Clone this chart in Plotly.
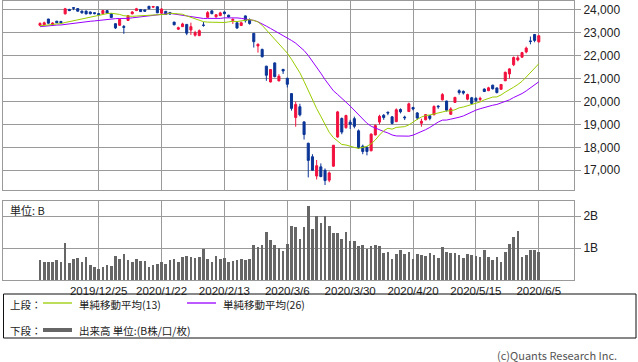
import plotly.graph_objects as go
import pandas as pd

W, H = 638, 362

dates = ["2019/12/5","2019/12/6","2019/12/9","2019/12/10","2019/12/11","2019/12/12","2019/12/13","2019/12/16","2019/12/17","2019/12/18",
         "2019/12/19","2019/12/20","2019/12/23","2019/12/24","2019/12/25","2019/12/26","2019/12/27","2019/12/30","2020/1/6","2020/1/7",
         "2020/1/8","2020/1/9","2020/1/10","2020/1/14","2020/1/15","2020/1/16","2020/1/17","2020/1/20","2020/1/21","2020/1/22",
         "2020/1/23","2020/1/24","2020/1/27","2020/1/28","2020/1/29","2020/1/30","2020/1/31","2020/2/3","2020/2/4","2020/2/5",
         "2020/2/6","2020/2/7","2020/2/10","2020/2/12","2020/2/13","2020/2/14","2020/2/17","2020/2/18","2020/2/19","2020/2/20",
         "2020/2/21","2020/2/25","2020/2/26","2020/2/27","2020/2/28","2020/3/2","2020/3/3","2020/3/4","2020/3/5","2020/3/6",
         "2020/3/9","2020/3/10","2020/3/11","2020/3/12","2020/3/13","2020/3/16","2020/3/17","2020/3/18","2020/3/19","2020/3/23",
         "2020/3/24","2020/3/25","2020/3/26","2020/3/27","2020/3/30","2020/3/31","2020/4/1","2020/4/2","2020/4/3","2020/4/6",
         "2020/4/7","2020/4/8","2020/4/9","2020/4/10","2020/4/13","2020/4/14","2020/4/15","2020/4/16","2020/4/17","2020/4/20",
         "2020/4/21","2020/4/22","2020/4/23","2020/4/24","2020/4/27","2020/4/28","2020/4/30","2020/5/1","2020/5/7","2020/5/8",
         "2020/5/11","2020/5/12","2020/5/13","2020/5/14","2020/5/15","2020/5/18","2020/5/19","2020/5/20","2020/5/21","2020/5/22",
         "2020/5/25","2020/5/26","2020/5/27","2020/5/28","2020/5/29","2020/6/1","2020/6/2","2020/6/3","2020/6/4","2020/6/5"]

open_ = [23320,23340,23594,23320,23500,23490,23820,24010,24090,24050,
         23940,23940,23900,23870,23830,23830,23960,23820,23390,23320,
         23270,23530,23820,23960,24010,23990,24150,24110,24130,23850,
         23930,23880,23460,23150,23260,23360,23115,22890,22870,23330,
         23670,23950,23690,23740,23900,23760,23530,23430,23310,23730,
         23550,22970,22420,22270,21540,20850,21680,20897,21400,21009,
         20343,19300,19770,19110,18180,17590,16750,17150,17000,16570,
         17180,18450,19260,18860,19100,19250,18720,18050,18000,17850,
         18540,19100,19400,19530,19330,19120,19650,19320,19560,19740,
         19500,19050,19200,19380,19420,19800,20070,20020,19440,19960,
         20470,20440,20100,20160,20140,20090,20540,20470,20710,20590,
         20530,20900,21200,21600,21810,21930,22160,22640,22920,22600]
high = [23450,23480,23600,23450,23510,23500,24080,24040,24110,24070,
        23960,23960,23920,23880,23840,23990,23980,23830,23400,23610,
        23330,23770,23940,24080,24030,24010,24160,24150,24140,24060,
        23940,23900,23470,23260,23430,23370,23433,23080,23140,23464,
        23940,23960,23790,23910,23920,23780,23625,23440,23480,23750,
        23620,22980,22535,22300,21550,21410,21700,21190,21410,21040,
        20347,19990,19900,19130,18200,17700,17450,17300,17080,16950,
        18100,19590,19300,19420,19200,19340,18780,18120,18050,18610,
        19000,19420,19450,19560,19360,19700,19700,19380,19950,19760,
        19540,19250,19450,19400,19830,19830,20365,20030,19750,20200,
        20530,20480,20340,20200,20180,20207,20570,20640,20730,20610,
        20760,21300,21450,21960,22020,22160,22390,22830,22930,22900]
low = [23280,23330,23390,23300,23420,23410,23790,23940,23980,23920,
       23830,23800,23800,23800,23760,23820,23820,23640,23160,23300,
       22951,23510,23800,23950,23900,23900,24020,24070,23850,23830,
       23780,23780,23320,23120,23250,22890,22900,22830,22850,23259,
       23660,23800,23650,23730,23800,23660,23380,23170,23300,23440,
       23350,22350,22130,21920,20900,20830,21050,20880,21200,20610,
       19600,18900,19350,18340,16690,16980,16600,16700,16358,16480,
       17150,18420,18570,18810,18800,18830,17930,17700,17650,17830,
       18520,19000,19200,19400,19000,19100,19480,19190,19540,19610,
       19200,18900,19180,19180,19400,19680,20050,19560,19420,19950,
       20300,20300,20050,19880,19980,19990,20410,20450,20520,20350,
       20520,20890,21000,21540,21750,21900,22100,22490,22580,22560]
close = [23400,23430,23410,23420,23430,23424,24040,23960,24066,23934,
         23864,23816,23821,23830,23782,23960,23850,23656,23204,23575,
         23230,23739,23900,24040,23916,23933,24041,24140,23864,24031,
         23795,23810,23343,23215,23379,22977,23259,23000,23084,23319,
         23873,23827,23780,23861,23827,23687,23575,23200,23430,23520,
         23400,22605,22490,21950,21142,21390,21082,21100,21329,20749,
         19698,19870,19416,18559,17431,17002,17200,16726,16552,16887,
         18092,19546,18664,19389,19000,18917,17990,17818,17820,18576,
         18950,19353,19300,19498,19043,19638,19550,19290,19897,19669,
         19280,19137,19429,19262,19783,19771,20300,19619,19674,20179,
         20390,20366,20300,19914,20037,20133,20433,20595,20552,20388,
         20741,21271,21419,21916,21900,22130,22325,22613,22660,22863]

# closes of the 25 sessions before the first candle (needed for the moving averages)
prior_close = [22843,22927,22850,23251,23303,23330,23391,23331,23520,23319,
               23141,23303,23416,23292,23148,23038,23112,23292,23373,23437,
               23409,23293,23529,23379,23135]

volume_b = [0.64,0.57,0.57,0.56,0.64,0.57,1.17,0.54,0.67,0.70,
            0.57,0.73,0.48,0.42,0.35,0.42,0.48,0.45,0.76,0.67,
            0.82,0.64,0.57,0.67,0.60,0.60,0.42,0.48,0.51,0.57,
            0.51,0.64,0.67,0.57,0.73,0.76,0.73,0.70,0.73,0.98,
            0.67,0.57,0.76,0.67,0.70,0.57,0.60,0.64,0.67,0.64,
            0.67,1.10,1.05,1.10,1.51,1.26,1.10,1.00,0.92,1.14,
            1.68,1.66,1.29,1.66,2.32,1.60,2.01,1.79,2.01,1.70,
            1.48,1.48,1.29,1.51,1.23,1.23,1.07,1.10,0.98,1.07,
            1.10,1.07,0.85,0.89,0.67,0.82,0.95,0.82,0.89,0.67,
            0.82,0.79,0.76,0.85,0.79,0.70,1.04,0.89,0.85,0.85,
            0.79,0.70,0.82,0.79,0.76,0.73,0.95,0.73,0.64,0.73,
            0.57,0.89,1.14,1.35,1.54,0.73,0.79,0.95,0.95,0.89]

tick_labels = ["2019/12/25","2020/1/22","2020/2/13","2020/3/6","2020/3/30","2020/4/20","2020/5/15","2020/6/5"]
price_ticks = [17000,18000,19000,20000,21000,22000,23000,24000]
vol_ticks = [1, 2]
vol_tick_text = ["1B", "2B"]

RED = "#f2113e"
BLUE = "#0b3596"
GREEN = "#99cc00"
PURPLE = "#9900ff"
GRID = "#9a9a9a"
TXT = "#222222"

x = list(range(len(dates)))
tick_idx = [dates.index(t) for t in tick_labels]

allc = pd.Series(prior_close + close)
ma13 = allc.rolling(13).mean().iloc[len(prior_close):].tolist()
ma26 = allc.rolling(26).mean().iloc[len(prior_close):].tolist()

def px_x(p):
    return p / W

def px_y(p):
    return 1 - p / H

fig = go.Figure()
fig.add_trace(go.Scatter(x=x, y=ma26, mode="lines", line=dict(color=PURPLE, width=1),
                         xaxis="x", yaxis="y", showlegend=False, hoverinfo="skip"))
fig.add_trace(go.Scatter(x=x, y=ma13, mode="lines", line=dict(color=GREEN, width=1),
                         xaxis="x", yaxis="y", showlegend=False, hoverinfo="skip"))
fig.add_trace(go.Candlestick(x=x, open=open_, high=high, low=low, close=close,
                             xaxis="x", yaxis="y", whiskerwidth=0,
                             increasing=dict(line=dict(color=RED, width=1), fillcolor=RED),
                             decreasing=dict(line=dict(color=BLUE, width=1), fillcolor=BLUE),
                             showlegend=False, hoverinfo="skip"))
fig.add_trace(go.Bar(x=x, y=volume_b, xaxis="x2", yaxis="y2", width=0.62,
                     marker=dict(color="#666666", line=dict(width=0)),
                     showlegend=False, hoverinfo="skip"))

xr = [-8.83, 127.4]
common_x = dict(range=xr, domain=[px_x(3), px_x(574)], tickmode="array", tickvals=tick_idx,
                showgrid=True, gridcolor=GRID, gridwidth=1, zeroline=False,
                showline=True, linecolor=GRID, linewidth=1, mirror=True, fixedrange=True)
fig.update_layout(
    width=W, height=H, autosize=False,
    margin=dict(l=0, r=0, t=0, b=0),
    paper_bgcolor="white", plot_bgcolor="white",
    showlegend=False,
    font=dict(family="Liberation Sans, DejaVu Sans, sans-serif", size=12, color=TXT),
    xaxis=dict(**common_x, anchor="y", showticklabels=False, ticks="", rangeslider=dict(visible=False)),
    yaxis=dict(domain=[px_y(190), px_y(1)], range=[16141, 24379], side="right",
               tickmode="array", tickvals=price_ticks, ticktext=[f"{v:,}" for v in price_ticks],
               ticks="outside", ticklen=6, tickcolor=GRID, showgrid=True, gridcolor=GRID,
               zeroline=False, showline=True, linecolor=GRID, mirror=True, anchor="x",
               tickfont=dict(size=12, color=TXT), fixedrange=True),
    xaxis2=dict(**common_x, anchor="y2", showticklabels=True, ticktext=tick_labels, ticks="",
                ticklabelstandoff=0, tickfont=dict(size=11.5, color=TXT)),
    yaxis2=dict(domain=[px_y(280), px_y(201)], range=[0, 2.48], side="right",
                tickmode="array", tickvals=vol_ticks, ticktext=vol_tick_text,
                ticks="outside", ticklen=6, tickcolor=GRID, showgrid=True, gridcolor=GRID,
                zeroline=False, showline=True, linecolor=GRID, mirror=True, anchor="x2",
                tickfont=dict(size=12, color=TXT), fixedrange=True),
    bargap=0,
)

JP = "Noto Sans CJK JP, sans-serif"
def note(text, xp, yp, anchor="left", size=10.5, color=TXT, family=JP):
    fig.add_annotation(text=text, x=px_x(xp), y=px_y(yp), xref="paper", yref="paper",
                       xanchor=anchor, yanchor="middle", showarrow=False,
                       font=dict(family=family, size=size, color=color))

note("単位: B", 8, 210, size=11)
note("上段：", 8, 304)
note("単純移動平均(13)", 77, 304)
note("単純移動平均(26)", 221, 304)
note("下段：", 8, 330)
note("出来高 単位:(B株/口/枚)", 77, 330)
note("(c)Quants Research Inc.", 619, 355, anchor="right", size=11, color="#555555")

def seg(x0, x1, y, color, width):
    fig.add_shape(type="line", xref="paper", yref="paper", x0=px_x(x0), x1=px_x(x1),
                  y0=px_y(y), y1=px_y(y), line=dict(color=color, width=width))

fig.add_shape(type="rect", xref="paper", yref="paper", x0=px_x(3.5), x1=px_x(636),
              y0=px_y(338), y1=px_y(294), line=dict(color="#111111", width=1))
seg(43, 72, 303, GREEN, 1.3)
seg(187, 216, 303, PURPLE, 1.3)
seg(43, 72, 330, "#666666", 4)

fig.write_html("out.html", config={"displayModeBar": False},
               post_script="document.body.style.margin='0';document.body.style.overflow='hidden';")
